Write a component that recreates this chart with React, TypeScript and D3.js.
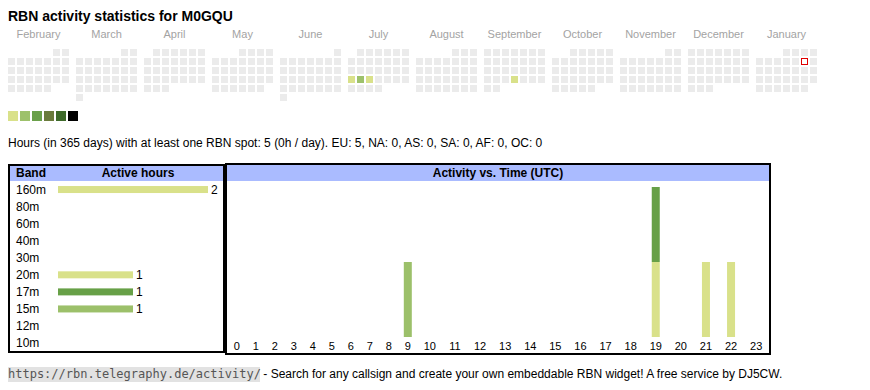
import * as d3 from "d3";

// calendar: one block per month, Feb 2025 .. Jan 2026
const months = [
  "February", "March", "April", "May", "June", "July",
  "August", "September", "October", "November", "December", "January",
];
const firstYear = 2025;
const firstMonthIndex = 1; // February
const activeDates = ["2025-07-21", "2025-07-22", "2025-07-23", "2025-09-25"];
const activeDateHours = [1, 2, 1, 1];
const todayDate = "2026-01-10";
const levelColors = ["#d9e18a", "#9dc16b", "#6aa04a", "#6a7b3c", "#3e6a2a", "#000000"];

// active hours per band
const bands = ["160m", "80m", "60m", "40m", "30m", "20m", "17m", "15m", "12m", "10m"];
const bandHours = [2, 0, 0, 0, 0, 1, 1, 1, 0, 0];
const bandColors: Record<string, string> = {
  "160m": "#d9e18a",
  "20m": "#d9e18a",
  "17m": "#67a047",
  "15m": "#9cc06a",
};

// spots by UTC hour
const hours = [0, 1, 2, 3, 4, 5, 6, 7, 8, 9, 10, 11, 12, 13, 14, 15, 16, 17, 18, 19, 20, 21, 22, 23];
const spotHours = [9, 19, 19, 21, 22];
const spotBands = ["15m", "20m", "17m", "160m", "160m"];

const title = "RBN activity statistics for M0GQU";
const summary =
  "Hours (in 365 days) with at least one RBN spot: 5 (0h / day). EU: 5, NA: 0, AS: 0, SA: 0, AF: 0, OC: 0";
const footerUrl = "https://rbn.telegraphy.de/activity/";
const footerText = "- Search for any callsign and create your own embeddable RBN widget! A free service by DJ5CW.";

const font = "'Liberation Sans', Arial, Helvetica, sans-serif";
const headerBlue = "#aabbff";

function Calendar() {
  const parse = d3.timeParse("%Y-%m-%d");
  const fmt = d3.timeFormat("%Y-%m-%d");
  const hoursByDate = new Map(activeDates.map((d, i) => [d, activeDateHours[i]]));
  const color = d3.scaleOrdinal<number, string>(d3.range(1, 7), levelColors);
  const monthX = d3.scalePoint<string>().domain(months).range([8, 8 + 11 * 68]);
  const step = 9;
  const size = 7;
  const top = 49;

  return (
    <g>
      {months.map((m, mi) => {
        const start = new Date(firstYear, firstMonthIndex + mi, 1);
        const days = d3.timeDay.range(start, d3.timeMonth.offset(start, 1));
        const x0 = monthX(m)!;
        return (
          <g key={m}>
            <text x={x0 + 30.5} y={38} textAnchor="middle" fontSize={11} fill="#a3a3a3">
              {m}
            </text>
            {days.map((d) => {
              const key = fmt(d);
              const col = (d.getDay() + 6) % 7;
              const row = d3.timeMonday.count(start, d);
              const h = hoursByDate.get(key);
              const isToday = key === todayDate;
              const x = x0 + col * step;
              const y = top + row * step;
              if (isToday)
                return (
                  <rect key={key} x={x + 0.5} y={y + 0.5} width={size - 1} height={size - 1}
                    fill="#fff" stroke="#e00000" strokeWidth={1} />
                );
              return (
                <rect key={key} x={x} y={y} width={size} height={size}
                  fill={h ? color(h) : "#ebebeb"} />
              );
            })}
          </g>
        );
      })}
      {levelColors.map((c, i) => (
        <rect key={c} x={8 + i * 12} y={111} width={10} height={10} fill={c} />
      ))}
      {parse(todayDate) ? null : null}
    </g>
  );
}

function BandTable() {
  const y = d3.scaleBand<string>().domain(bands).range([181, 181 + 10 * 17.06]);
  const x = d3.scaleLinear().domain([0, 2]).range([58, 208]);
  return (
    <g>
      <rect x={10} y={166} width={213} height={15} fill={headerBlue} />
      <rect x={9} y={165} width={215} height={187} fill="none" stroke="#000" strokeWidth={2} />
      <text x={16} y={177} fontSize={12} fontWeight="bold">Band</text>
      <text x={138} y={177} fontSize={12} fontWeight="bold" textAnchor="middle">Active hours</text>
      {bands.map((b, i) => {
        const cy = y(b)! + y.bandwidth() / 2;
        const v = bandHours[i];
        return (
          <g key={b}>
            <text x={16} y={cy + 4} fontSize={12}>{b}</text>
            {v > 0 && (
              <>
                <rect x={x(0)} y={cy - 3.5} width={x(v) - x(0)} height={7} fill={bandColors[b]} />
                <text x={x(v) + 3} y={cy + 4} fontSize={12}>{v}</text>
              </>
            )}
          </g>
        );
      })}
    </g>
  );
}

function HourChart() {
  const widths = hours.map((h) => 12.9 + 6.1 * String(h).length);
  const ends = Array.from(d3.cumsum(widths));
  const centers = ends.map((e, i) => 227.3 + e - widths[i] / 2);
  const x = d3.scaleOrdinal<number, number>(hours, centers);
  const table = hours.map((h) => {
    const row: Record<string, number> = { hour: h };
    bands.forEach((b) => {
      row[b] = spotHours.filter((sh, i) => sh === h && spotBands[i] === b).length;
    });
    return row;
  });
  const series = d3.stack<Record<string, number>>().keys(bands)(table);
  const y = d3.scaleLinear().domain([0, 2]).range([337, 187]);
  const barW = 8;

  return (
    <g>
      <rect x={227} y={165} width={542} height={16} fill={headerBlue} />
      <rect x={226} y={164} width={544} height={190} fill="none" stroke="#000" strokeWidth={2} />
      <text x={498} y={177} fontSize={12} fontWeight="bold" textAnchor="middle">
        Activity vs. Time (UTC)
      </text>
      {series.map((s) => (
        <g key={s.key} fill={bandColors[s.key] ?? "#ccc"}>
          {s
            .filter((d) => d[1] > d[0])
            .map((d) => (
              <rect key={d.data.hour} x={x(d.data.hour) - barW / 2} y={y(d[1])}
                width={barW} height={y(d[0]) - y(d[1])} />
            ))}
        </g>
      ))}
      {hours.map((h) => (
        <text key={h} x={x(h)} y={349.5} fontSize={11} textAnchor="middle">{h}</text>
      ))}
    </g>
  );
}

export default function App() {
  return (
    <svg width={870} height={390} fontFamily={font}
      style={{ position: "absolute", left: 0, top: 0, background: "#fff" }}>
      <text x={8} y={20.5} fontSize={14} fontWeight="bold">{title}</text>
      <Calendar />
      <text x={8} y={147} fontSize={12}>{summary}</text>
      <BandTable />
      <HourChart />
      <rect x={8} y={367} width={252} height={15} fill="#e2e2e2" />
      <text x={8} y={378} fontSize={12} fontFamily="'DejaVu Sans Mono', monospace" fill="#555">
        {footerUrl}
      </text>
      <text x={263.3} y={378} fontSize={12}>{footerText}</text>
    </svg>
  );
}
